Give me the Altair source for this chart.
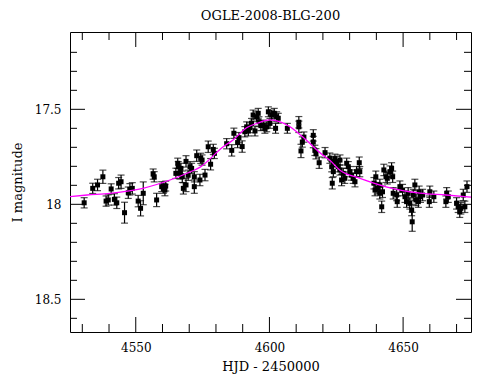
import altair as alt
import pandas as pd

# Photometry (HJD-2450000, I mag, error)
hjd = [4530.7, 4533.9, 4535.7, 4537.7, 4538.9, 4539.7, 4540.8, 4542.0, 4542.9, 4543.6,
       4544.5, 4545.8, 4547.2, 4547.8, 4548.7, 4550.9, 4551.8, 4552.8, 4556.5, 4556.9,
       4557.8, 4559.7, 4560.3, 4560.9, 4561.2, 4565.0, 4565.7, 4565.9, 4566.5, 4566.9,
       4567.4, 4567.8, 4568.8, 4568.8, 4569.6, 4570.3, 4570.9, 4571.9, 4571.9, 4572.8,
       4574.0, 4574.3, 4574.8, 4575.9, 4577.1, 4578.0, 4579.0, 4579.4, 4584.0, 4585.9,
       4586.7, 4588.1, 4588.6, 4589.8, 4590.8, 4591.5, 4592.1, 4592.7, 4593.3, 4593.9,
       4594.6, 4595.2, 4595.8, 4596.1, 4596.8, 4597.7, 4598.3, 4599.0, 4599.6, 4600.2,
       4600.8, 4601.8, 4602.3, 4602.7, 4603.3, 4606.7, 4611.0, 4611.0, 4611.8, 4612.3,
       4612.9, 4616.4, 4616.4, 4617.0, 4617.4, 4618.6, 4620.8, 4622.6, 4623.3, 4623.5,
       4623.9, 4623.9, 4624.5, 4625.1, 4625.7, 4626.4, 4626.4, 4627.0, 4627.6, 4628.2,
       4628.9, 4629.5, 4630.1, 4630.7, 4631.3, 4632.0, 4632.6, 4633.6, 4633.8, 4639.1,
       4639.5, 4639.8, 4640.3, 4641.3, 4641.3, 4642.0, 4642.3, 4642.8, 4643.6, 4644.1,
       4645.1, 4645.7, 4646.1, 4646.3, 4647.6, 4647.8, 4648.8, 4649.8, 4650.7, 4651.3,
       4651.9, 4652.5, 4653.2, 4653.4, 4653.8, 4654.4, 4654.8, 4655.7, 4656.0, 4656.5,
       4657.3, 4659.8, 4660.0, 4661.5, 4666.0, 4666.3, 4666.9, 4670.0, 4670.6, 4671.2,
       4671.6, 4672.5, 4673.1, 4673.9]
mag = [17.992, 17.916, 17.898, 17.855, 17.983, 17.977, 17.919, 17.974, 17.992, 17.889,
       17.881, 18.044, 17.939, 17.921, 17.916, 17.983, 18.021, 17.942, 17.841, 17.855,
       17.977, 17.907, 17.916, 17.925, 17.904, 17.837, 17.784, 17.802, 17.837, 17.811,
       17.855, 17.916, 17.774, 17.898, 17.847, 17.802, 17.811, 17.855, 17.907, 17.744,
       17.872, 17.758, 17.767, 17.846, 17.697, 17.789, 17.711, 17.732, 17.681, 17.716,
       17.626, 17.675, 17.649, 17.696, 17.618, 17.592, 17.614, 17.597, 17.574, 17.530,
       17.614, 17.539, 17.521, 17.565, 17.586, 17.583, 17.600, 17.592, 17.513, 17.574,
       17.530, 17.521, 17.600, 17.539, 17.547, 17.600, 17.568, 17.592, 17.719, 17.672,
       17.646, 17.637, 17.672, 17.716, 17.734, 17.781, 17.728, 17.757, 17.802, 17.889,
       17.775, 17.828, 17.763, 17.775, 17.802, 17.767, 17.819, 17.872, 17.837, 17.863,
       17.784, 17.802, 17.828, 17.846, 17.863, 17.881, 17.828, 17.781, 17.828, 17.889,
       17.925, 17.855, 17.916, 17.942, 17.898, 18.013, 17.934, 17.819, 17.855, 17.863,
       17.828, 17.811, 17.855, 17.942, 17.951, 17.986, 17.907, 17.925, 17.960, 17.986,
       17.942, 17.995, 18.030, 18.092, 17.951, 17.898, 17.977, 17.986, 17.934, 17.960,
       17.951, 17.986, 17.934, 17.960, 17.986, 17.942, 17.960, 17.995, 18.013, 18.039,
       18.021, 17.951, 18.013, 17.907]
err = [0.027, 0.027, 0.030, 0.035, 0.027, 0.027, 0.027, 0.030, 0.030, 0.030,
       0.035, 0.055, 0.030, 0.030, 0.030, 0.030, 0.040, 0.060, 0.027, 0.027,
       0.035, 0.026, 0.026, 0.030, 0.026, 0.027, 0.027, 0.027, 0.030, 0.027,
       0.030, 0.030, 0.030, 0.035, 0.027, 0.027, 0.027, 0.027, 0.035, 0.030,
       0.030, 0.027, 0.027, 0.030, 0.030, 0.030, 0.027, 0.027, 0.027, 0.030,
       0.027, 0.027, 0.027, 0.030, 0.027, 0.026, 0.026, 0.026, 0.026, 0.026,
       0.026, 0.026, 0.026, 0.026, 0.026, 0.026, 0.026, 0.026, 0.026, 0.026,
       0.026, 0.026, 0.026, 0.026, 0.026, 0.026, 0.030, 0.030, 0.035, 0.027,
       0.027, 0.030, 0.030, 0.027, 0.027, 0.030, 0.027, 0.027, 0.027, 0.030,
       0.027, 0.027, 0.027, 0.027, 0.027, 0.027, 0.027, 0.030, 0.027, 0.027,
       0.027, 0.027, 0.027, 0.027, 0.027, 0.027, 0.027, 0.030, 0.027, 0.030,
       0.030, 0.030, 0.030, 0.030, 0.030, 0.030, 0.030, 0.030, 0.030, 0.030,
       0.030, 0.030, 0.030, 0.030, 0.030, 0.030, 0.030, 0.030, 0.030, 0.030,
       0.030, 0.030, 0.030, 0.050, 0.030, 0.030, 0.030, 0.030, 0.030, 0.030,
       0.030, 0.030, 0.030, 0.030, 0.030, 0.030, 0.030, 0.030, 0.030, 0.030,
       0.030, 0.030, 0.030, 0.030]

# Model light curve
model_hjd = [4525.4, 4531.8, 4540.4, 4552.7, 4562.8, 4570.3, 4574.1, 4582.6, 4586.4, 4591.6,
             4595.7, 4600.2, 4607.7, 4612.5, 4620.0, 4622.6, 4626.4, 4633.9, 4644.0, 4656.3,
             4666.1, 4675.4]
model_mag = [17.959, 17.951, 17.942, 17.916, 17.872, 17.830, 17.804, 17.698, 17.661, 17.596,
             17.572, 17.556, 17.592, 17.646, 17.741, 17.768, 17.821, 17.863, 17.909, 17.941,
             17.951, 17.962]

# Tick positions
x_major = [4550, 4600, 4650]
x_minor = [4530, 4540, 4560, 4570, 4580, 4590, 4610, 4620, 4630, 4640, 4660, 4670]
y_major = [17.5, 18.0, 18.5]
y_minor = [17.2, 17.3, 17.4, 17.6, 17.7, 17.8, 17.9, 18.1, 18.2, 18.3, 18.4, 18.6]

W, H = 401, 300
FONT = "DejaVu Serif"

df = pd.DataFrame({"hjd": hjd, "mag": mag, "err": err})
df["lo"] = df["mag"] - df["err"]
df["hi"] = df["mag"] + df["err"]
model = pd.DataFrame({"hjd": model_hjd, "mag": model_mag})

xs = alt.Scale(domain=[4525.4, 4675.4], nice=False, zero=False)
ys = alt.Scale(domain=[17.093, 18.672], reverse=True, nice=False, zero=False)

xaxis = alt.Axis(values=x_major, format="d", grid=False, ticks=False, tickSize=0, domain=False,
                 labelFont=FONT, labelFontSize=12, labelColor="black", labelPadding=10,
                 title="HJD - 2450000", titleFont=FONT, titleFontSize=13, titleFontWeight="normal",
                 titleColor="black", titleX=W / 2, titleY=28, titleBaseline="top", titleAlign="center")
yaxis = alt.Axis(values=y_major, format="~g", grid=False, ticks=False, tickSize=0, domain=False,
                 labelFont=FONT, labelFontSize=12, labelColor="black", labelPadding=9,
                 title="I magnitude", titleFont=FONT, titleFontSize=13, titleFontWeight="normal",
                 titleColor="black", titleX=-53, titleY=H / 2, titleAngle=270,
                 titleBaseline="middle", titleAlign="center")

X = lambda f: alt.X(f, scale=xs, axis=xaxis)
Y = lambda f: alt.Y(f, scale=ys, axis=yaxis)

base = alt.Chart(df)
bars = base.mark_rule(color="black", strokeWidth=1.2).encode(x=X("hjd:Q"), y=Y("lo:Q"), y2="hi:Q")
cap_lo = base.mark_tick(color="black", orient="horizontal", size=7, thickness=1.2).encode(
    x=X("hjd:Q"), y=Y("lo:Q"))
cap_hi = base.mark_tick(color="black", orient="horizontal", size=7, thickness=1.2).encode(
    x=X("hjd:Q"), y=Y("hi:Q"))
pts = base.mark_square(color="black", size=25, opacity=1).encode(x=X("hjd:Q"), y=Y("mag:Q"))
line = alt.Chart(model).mark_line(color="#ff00ff", strokeWidth=1.3, interpolate="monotone").encode(
    x=X("hjd:Q"), y=Y("mag:Q"))

# inward ticks on all four sides
def xticks(vals, length):
    d = pd.DataFrame({"v": vals})
    bot = alt.Chart(d).mark_rule(color="black", strokeWidth=1).encode(
        x=X("v:Q"), y=alt.value(H), y2=alt.value(H - length))
    top = alt.Chart(d).mark_rule(color="black", strokeWidth=1).encode(
        x=X("v:Q"), y=alt.value(0), y2=alt.value(length))
    return [bot, top]

def yticks(vals, length):
    d = pd.DataFrame({"v": vals})
    left = alt.Chart(d).mark_rule(color="black", strokeWidth=1).encode(
        y=Y("v:Q"), x=alt.value(0), x2=alt.value(length))
    right = alt.Chart(d).mark_rule(color="black", strokeWidth=1).encode(
        y=Y("v:Q"), x=alt.value(W), x2=alt.value(W - length))
    return [left, right]

ticks = xticks(x_major, 15) + xticks(x_minor, 8) + yticks(y_major, 15) + yticks(y_minor, 7)

chart = alt.layer(bars, cap_lo, cap_hi, pts, line, *ticks).properties(
    width=W, height=H,
    title=alt.TitleParams("OGLE-2008-BLG-200", font=FONT, fontSize=13, fontWeight="normal",
                          color="black", anchor="middle", offset=9),
    autosize=alt.AutoSizeParams(type="none"),
    padding={"left": 62, "top": 24, "right": 11, "bottom": 47},
    background="white",
).configure_view(stroke="black", strokeWidth=1)

chart.save("out.html", embed_options={"renderer": "svg", "actions": False})
